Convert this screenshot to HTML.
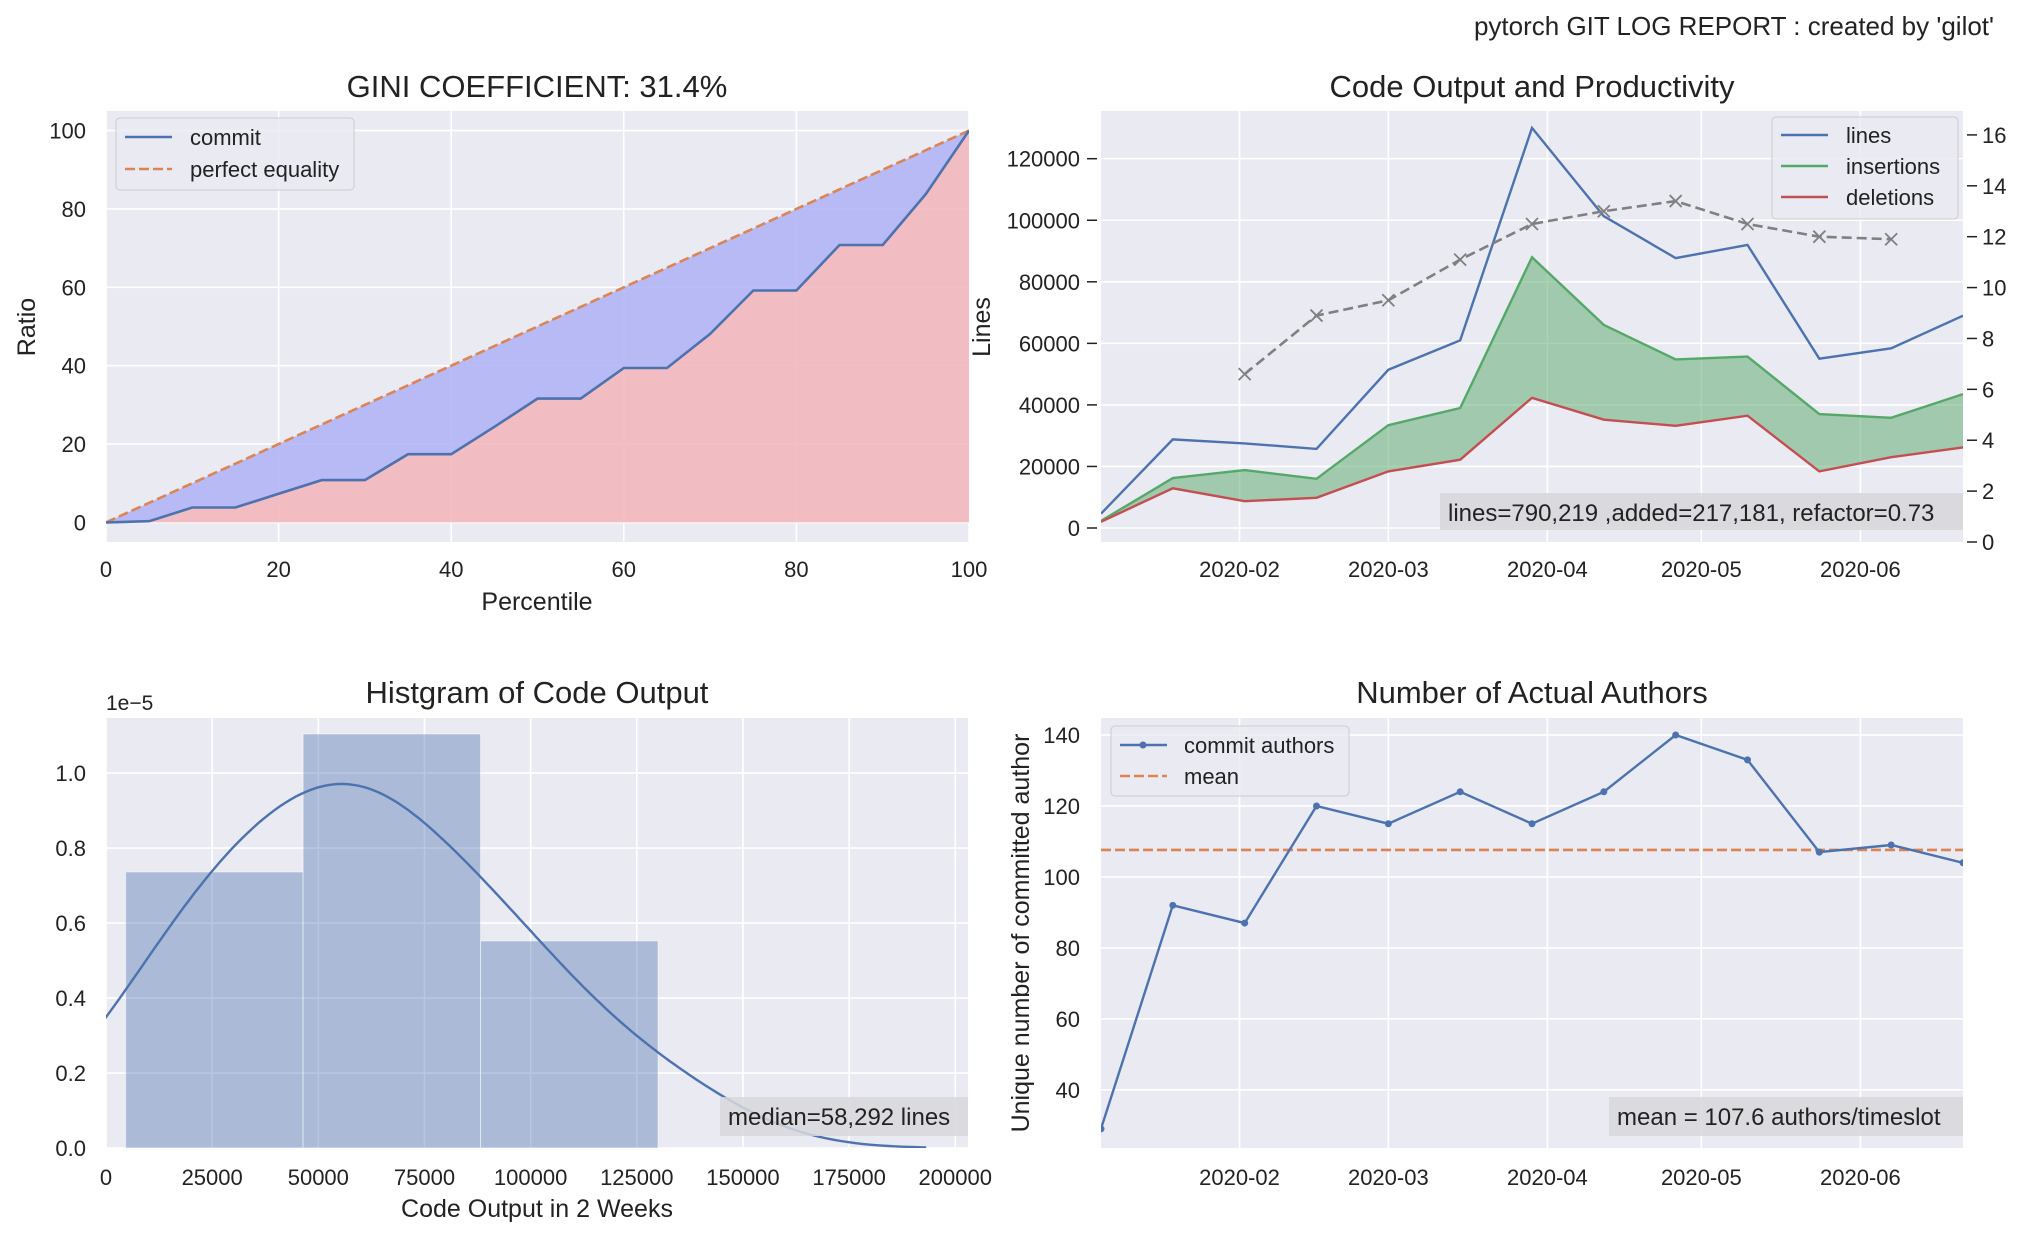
<!DOCTYPE html>
<html><head><meta charset="utf-8"><style>
html,body{margin:0;padding:0;background:#fff;}
svg{display:block;font-family:"Liberation Sans",Arial,sans-serif;}
</style></head><body>
<svg id="fig" width="2024" height="1235" viewBox="0 0 2024 1235" xmlns="http://www.w3.org/2000/svg">
<defs>
<clipPath id="c1"><rect x="106" y="111" width="863" height="431"/></clipPath>
<clipPath id="c2"><rect x="1101" y="111" width="862" height="431"/></clipPath>
<clipPath id="c3"><rect x="106" y="718" width="862" height="430"/></clipPath>
<clipPath id="c4"><rect x="1101" y="718" width="862" height="430"/></clipPath>
</defs>
<text x="1994" y="35" text-anchor="end" font-size="26" fill="#222">pytorch GIT LOG REPORT : created by 'gilot'</text>
<rect x="106" y="111" width="863" height="431" fill="#EAEAF2"/>
<rect x="1101" y="111" width="862" height="431" fill="#EAEAF2"/>
<rect x="106" y="718" width="862" height="430" fill="#EAEAF2"/>
<rect x="1101" y="718" width="862" height="430" fill="#EAEAF2"/>
<g id="g1"></g><g id="g2"></g><g id="g3"></g><g id="g4"></g>
<text x="537" y="97" text-anchor="middle" font-size="31" fill="#222">GINI COEFFICIENT: 31.4%</text>
<text x="537" y="610" text-anchor="middle" font-size="25" fill="#222">Percentile</text>
<text x="0" y="0" transform="translate(35,327) rotate(-90)" text-anchor="middle" font-size="25" fill="#222">Ratio</text>
<text x="1532" y="97" text-anchor="middle" font-size="31" fill="#222">Code Output and Productivity</text>
<text x="0" y="0" transform="translate(990,327) rotate(-90)" text-anchor="middle" font-size="25" fill="#222">Lines</text>
<text x="537" y="703" text-anchor="middle" font-size="31" fill="#222">Histgram of Code Output</text>
<text x="106" y="710" font-size="21" fill="#222">1e−5</text>
<text x="537" y="1217" text-anchor="middle" font-size="25" fill="#222">Code Output in 2 Weeks</text>
<text x="1532" y="703" text-anchor="middle" font-size="31" fill="#222">Number of Actual Authors</text>
<text x="0" y="0" transform="translate(1029,933) rotate(-90)" text-anchor="middle" font-size="25" fill="#222">Unique number of committed author</text>
</svg>
<script>
// ---- data ----
const giniPct = [0,5,10,15,20,25,30,35,40,45,50,55,60,65,70,75,80,85,90,95,100];
const giniCommit = [0,0.3,3.8,3.8,7.3,10.8,10.8,17.4,17.4,24.4,31.6,31.6,39.4,39.4,48.1,59.2,59.2,70.8,70.8,83.8,100];
const giniTicks = [0,20,40,60,80,100];
const dayOfYear = [4,18,32,46,60,74,88,102,116,130,144,158,172];
const linesVals = [4630,28800,27500,25700,51400,61000,130000,101300,87700,92000,55000,58400,69000];
const insertVals = [2300,16200,18800,16000,33400,39000,88000,66000,54800,55700,37000,35800,43500];
const deleteVals = [2000,12900,8700,9800,18400,22200,42300,35200,33200,36500,18400,23000,26200];
const productivity = [null,null,6.6,8.9,9.5,11.1,12.5,13.0,13.4,12.5,12.0,11.9,null];
const authorVals = [29,92,87,120,115,124,115,124,140,133,107,109,104];
const monthDays = [31,60,91,121,152];
const monthLabels = ['2020-02','2020-03','2020-04','2020-05','2020-06'];
const linesTicks = [0,20000,40000,60000,80000,100000,120000];
const prodTicks = [0,2,4,6,8,10,12,14,16];
const histTicks = [0,25000,50000,75000,100000,125000,150000,175000,200000];
const histYTicks = [0,0.2,0.4,0.6,0.8,1.0];
const authorTicks = [40,60,80,100,120,140];

const NS='http://www.w3.org/2000/svg';
const TF=22, LF=22, BF=24;
function mk(parent,tag,attrs,name,inter){
  const el=document.createElementNS(NS,tag);
  for(const k in attrs) el.setAttribute(k,attrs[k]);
  
  
  parent.appendChild(el); return el;
}
function txt(parent,x,y,s,anchor,size,name){
  const t=mk(parent,'text',{x:x,y:y,'text-anchor':anchor,'font-size':size,fill:'#222'},name,false);
  t.textContent=s; return t;
}
const pts=(xs,ys,fx,fy)=>xs.map((x,i)=>fx(x).toFixed(1)+','+fy(ys[i]).toFixed(1)).join(' ');
const fmtBlue='#4C72B0', orange='#DD8452', green='#55A868', red='#C44E52';

// ---- chart 1: gini ----
(function(){
  const g=document.getElementById('g1');
  const sx=v=>106+v/100*863, sy=v=>542-(v+5)/110*431;
  giniTicks.forEach(t=>{
    mk(g,'line',{x1:sx(t),x2:sx(t),y1:111,y2:542,stroke:'#fff','stroke-width':1.6},'gini-x-gridline',false);
    mk(g,'line',{x1:106,x2:969,y1:sy(t),y2:sy(t),stroke:'#fff','stroke-width':1.6},'gini-y-gridline',false);
    txt(g,sx(t),577,String(t),'middle',TF,'gini-x-tick-label');
    txt(g,86,sy(t)+8,String(t),'end',TF,'gini-y-tick-label');
  });
  const cg=mk(g,'g',{'clip-path':'url(#c1)'},'gini-series',false);
  const commitPts=pts(giniPct,giniCommit,sx,sy);
  const eqTop=giniPct.map(p=>sx(p).toFixed(1)+','+sy(p).toFixed(1)).reverse().join(' ');
  mk(cg,'polygon',{points:commitPts+' '+eqTop,fill:'#B3B5F5','fill-opacity':0.9},'inequality-area',false);
  mk(cg,'polygon',{points:commitPts+' '+sx(100)+','+sy(0)+' '+sx(0)+','+sy(0),fill:'#F2B4BA','fill-opacity':0.85},'commit-area',false);
  mk(cg,'polyline',{points:giniPct.map(p=>sx(p)+','+sy(p)).join(' '),fill:'none',stroke:orange,'stroke-width':2.6,'stroke-dasharray':'10,4'},'perfect-equality-line',false);
  mk(cg,'polyline',{points:commitPts,fill:'none',stroke:fmtBlue,'stroke-width':2.6},'commit-line',false);
  const lg=mk(g,'g',{},'gini-legend',false);
  mk(lg,'rect',{x:116,y:118,width:238,height:72,rx:4,fill:'#EAEAF2','fill-opacity':0.8,stroke:'#ccc'},'gini-legend-box',false);
  mk(lg,'line',{x1:125,x2:172,y1:137,y2:137,stroke:fmtBlue,'stroke-width':2.6},'legend-commit-swatch',false);
  txt(lg,190,145,'commit','start',LF,'legend-commit-label');
  mk(lg,'line',{x1:125,x2:172,y1:169,y2:169,stroke:orange,'stroke-width':2.6,'stroke-dasharray':'10,4'},'legend-equality-swatch',false);
  txt(lg,190,177,'perfect equality','start',LF,'legend-equality-label');
})();

// ---- chart 2: output ----
const sxd=d=>1101+(d-4)/168*862;
(function(){
  const g=document.getElementById('g2');
  const sy=v=>542-(v+4550)/140050*431, syR=v=>542-v/16.94*431;
  monthDays.forEach((d,i)=>{
    mk(g,'line',{x1:sxd(d),x2:sxd(d),y1:111,y2:542,stroke:'#fff','stroke-width':1.6},'output-x-gridline',false);
    txt(g,sxd(d),577,monthLabels[i],'middle',TF,'output-x-tick-label');
  });
  linesTicks.forEach(t=>{
    mk(g,'line',{x1:1087,x2:1097,y1:sy(t),y2:sy(t),stroke:'#222','stroke-width':1.5},'output-y-tick',false);
    mk(g,'line',{x1:1101,x2:1963,y1:sy(t),y2:sy(t),stroke:'#fff','stroke-width':1.6},'output-y-gridline',false);
    txt(g,1080,sy(t)+8,String(t),'end',TF,'output-y-tick-label');
  });
  prodTicks.forEach(t=>{
    mk(g,'line',{x1:1967,x2:1977,y1:syR(t),y2:syR(t),stroke:'#222','stroke-width':1.5},'productivity-y-tick',false);
    txt(g,1982,syR(t)+8,String(t),'start',TF,'productivity-y-tick-label');
  });
  const cg=mk(g,'g',{'clip-path':'url(#c2)'},'output-series',false);
  const insP=pts(dayOfYear,insertVals,sxd,sy);
  const delRev=dayOfYear.map((d,i)=>sxd(d).toFixed(1)+','+sy(deleteVals[i]).toFixed(1)).reverse().join(' ');
  mk(cg,'polygon',{points:insP+' '+delRev,fill:green,'fill-opacity':0.5},'refactor-area',false);
  mk(cg,'polyline',{points:pts(dayOfYear,linesVals,sxd,sy),fill:'none',stroke:fmtBlue,'stroke-width':2.4},'lines-line',false);
  mk(cg,'polyline',{points:insP,fill:'none',stroke:green,'stroke-width':2.4},'insertions-line',false);
  mk(cg,'polyline',{points:pts(dayOfYear,deleteVals,sxd,sy),fill:'none',stroke:red,'stroke-width':2.4},'deletions-line',false);
  const pd=[],pv=[];
  productivity.forEach((v,i)=>{if(v!==null){pd.push(dayOfYear[i]);pv.push(v);}});
  mk(cg,'polyline',{points:pts(pd,pv,sxd,syR),fill:'none',stroke:'#808080','stroke-width':2.6,'stroke-dasharray':'10,5'},'productivity-line',false);
  pd.forEach((d,i)=>{
    const x=sxd(d),y=syR(pv[i]);
    mk(cg,'path',{d:`M${x-6},${y-6}L${x+6},${y+6}M${x-6},${y+6}L${x+6},${y-6}`,stroke:'#808080','stroke-width':1.8},'productivity-marker',false);
  });
  mk(g,'rect',{x:1440,y:493,width:523,height:37,fill:'#D8D8DC','fill-opacity':0.9},'summary-box',false);
  txt(g,1448,521,'lines=790,219 ,added=217,181, refactor=0.73','start',BF,'summary-text');
  const lg=mk(g,'g',{},'output-legend',false);
  mk(lg,'rect',{x:1772,y:117,width:186,height:102,rx:4,fill:'#EAEAF2','fill-opacity':0.8,stroke:'#ccc'},'output-legend-box',false);
  [['lines',fmtBlue],['insertions',green],['deletions',red]].forEach((e,i)=>{
    const y=135+i*31;
    mk(lg,'line',{x1:1781,x2:1828,y1:y,y2:y,stroke:e[1],'stroke-width':2.6},'legend-'+e[0]+'-swatch',false);
    txt(lg,1846,y+8,e[0],'start',LF,'legend-'+e[0]+'-label');
  });
})();

// ---- chart 3: histogram ----
(function(){
  const g=document.getElementById('g3');
  const sx=v=>106+v/203000*862, sy=v=>1148-v/1.147*430;
  histTicks.forEach(t=>{
    mk(g,'line',{x1:sx(t),x2:sx(t),y1:718,y2:1148,stroke:'#fff','stroke-width':1.6},'histogram-x-gridline',false);
    txt(g,sx(t),1185,String(t),'middle',TF,'histogram-x-tick-label');
  });
  histYTicks.forEach(t=>{
    mk(g,'line',{x1:106,x2:968,y1:sy(t),y2:sy(t),stroke:'#fff','stroke-width':1.6},'histogram-y-gridline',false);
    txt(g,86,sy(t)+8,t.toFixed(1),'end',TF,'histogram-y-tick-label');
  });
  const n=linesVals.length, mn=Math.min(...linesVals), mx=Math.max(...linesVals), bins=3, w=(mx-mn)/bins;
  const counts=[0,0,0];
  linesVals.forEach(v=>{let b=Math.floor((v-mn)/w); if(b>=bins)b=bins-1; counts[b]++;});
  const cg=mk(g,'g',{'clip-path':'url(#c3)'},'histogram-series',false);
  counts.forEach((c,i)=>{
    const dens=c/(n*w)*1e5;
    const x0=sx(mn+i*w), x1=sx(mn+(i+1)*w);
    mk(cg,'rect',{x:x0,y:sy(dens),width:x1-x0,height:1148-sy(dens),fill:'#4C72B0','fill-opacity':0.4,stroke:'#fff','stroke-opacity':0.5},'histogram-bar',false);
  });
  const mean=linesVals.reduce((a,b)=>a+b,0)/n;
  const sd=Math.sqrt(linesVals.reduce((a,b)=>a+(b-mean)*(b-mean),0)/(n-1));
  const bw=sd*Math.pow(n,-0.2);
  const kp=[];
  for(let k=0;k<=200;k++){
    const x=mn-3*bw+k*(mx-mn+6*bw)/200;
    let s=0; linesVals.forEach(v=>{const z=(x-v)/bw; s+=Math.exp(-0.5*z*z);});
    const d=s/(n*bw*Math.sqrt(2*Math.PI))*1e5;
    kp.push(sx(x).toFixed(1)+','+sy(d).toFixed(1));
  }
  mk(cg,'polyline',{points:kp.join(' '),fill:'none',stroke:fmtBlue,'stroke-width':2.4},'kde-curve',false);
  mk(g,'rect',{x:720,y:1097,width:248,height:39,fill:'#D8D8DC','fill-opacity':0.85},'median-box',false);
  txt(g,728,1125,'median=58,292 lines','start',BF,'median-text');
})();

// ---- chart 4: authors ----
(function(){
  const g=document.getElementById('g4');
  const sy=v=>1148-(v-23.6)/121.2*430;
  monthDays.forEach((d,i)=>{
    mk(g,'line',{x1:sxd(d),x2:sxd(d),y1:718,y2:1148,stroke:'#fff','stroke-width':1.6},'authors-x-gridline',false);
    txt(g,sxd(d),1185,monthLabels[i],'middle',TF,'authors-x-tick-label');
  });
  authorTicks.forEach(t=>{
    mk(g,'line',{x1:1101,x2:1963,y1:sy(t),y2:sy(t),stroke:'#fff','stroke-width':1.6},'authors-y-gridline',false);
    txt(g,1080,sy(t)+8,String(t),'end',TF,'authors-y-tick-label');
  });
  const cg=mk(g,'g',{'clip-path':'url(#c4)'},'authors-series',false);
  const mean=authorVals.reduce((a,b)=>a+b,0)/authorVals.length;
  mk(cg,'line',{x1:1101,x2:1963,y1:sy(mean),y2:sy(mean),stroke:orange,'stroke-width':2.6,'stroke-dasharray':'10,4'},'mean-line',false);
  mk(cg,'polyline',{points:pts(dayOfYear,authorVals,sxd,sy),fill:'none',stroke:fmtBlue,'stroke-width':2.4},'commit-authors-line',false);
  dayOfYear.forEach((d,i)=>{
    mk(cg,'circle',{cx:sxd(d),cy:sy(authorVals[i]),r:3.5,fill:fmtBlue},'commit-authors-point',false);
  });
  mk(g,'rect',{x:1609,y:1097,width:354,height:39,fill:'#D8D8DC','fill-opacity':0.85},'mean-box',false);
  txt(g,1617,1125,'mean = '+mean.toFixed(1)+' authors/timeslot','start',BF,'mean-text');
  const lg=mk(g,'g',{},'authors-legend',false);
  mk(lg,'rect',{x:1111,y:726,width:238,height:70,rx:4,fill:'#EAEAF2','fill-opacity':0.8,stroke:'#ccc'},'authors-legend-box',false);
  mk(lg,'line',{x1:1120,x2:1167,y1:745,y2:745,stroke:fmtBlue,'stroke-width':2.6},'legend-commit-authors-swatch',false);
  mk(lg,'circle',{cx:1143,cy:745,r:3.5,fill:fmtBlue},'legend-commit-authors-marker',false);
  txt(lg,1184,753,'commit authors','start',LF,'legend-commit-authors-label');
  mk(lg,'line',{x1:1120,x2:1167,y1:776,y2:776,stroke:orange,'stroke-width':2.6,'stroke-dasharray':'10,4'},'legend-mean-swatch',false);
  txt(lg,1184,784,'mean','start',LF,'legend-mean-label');
})();
</script>
</body></html>
